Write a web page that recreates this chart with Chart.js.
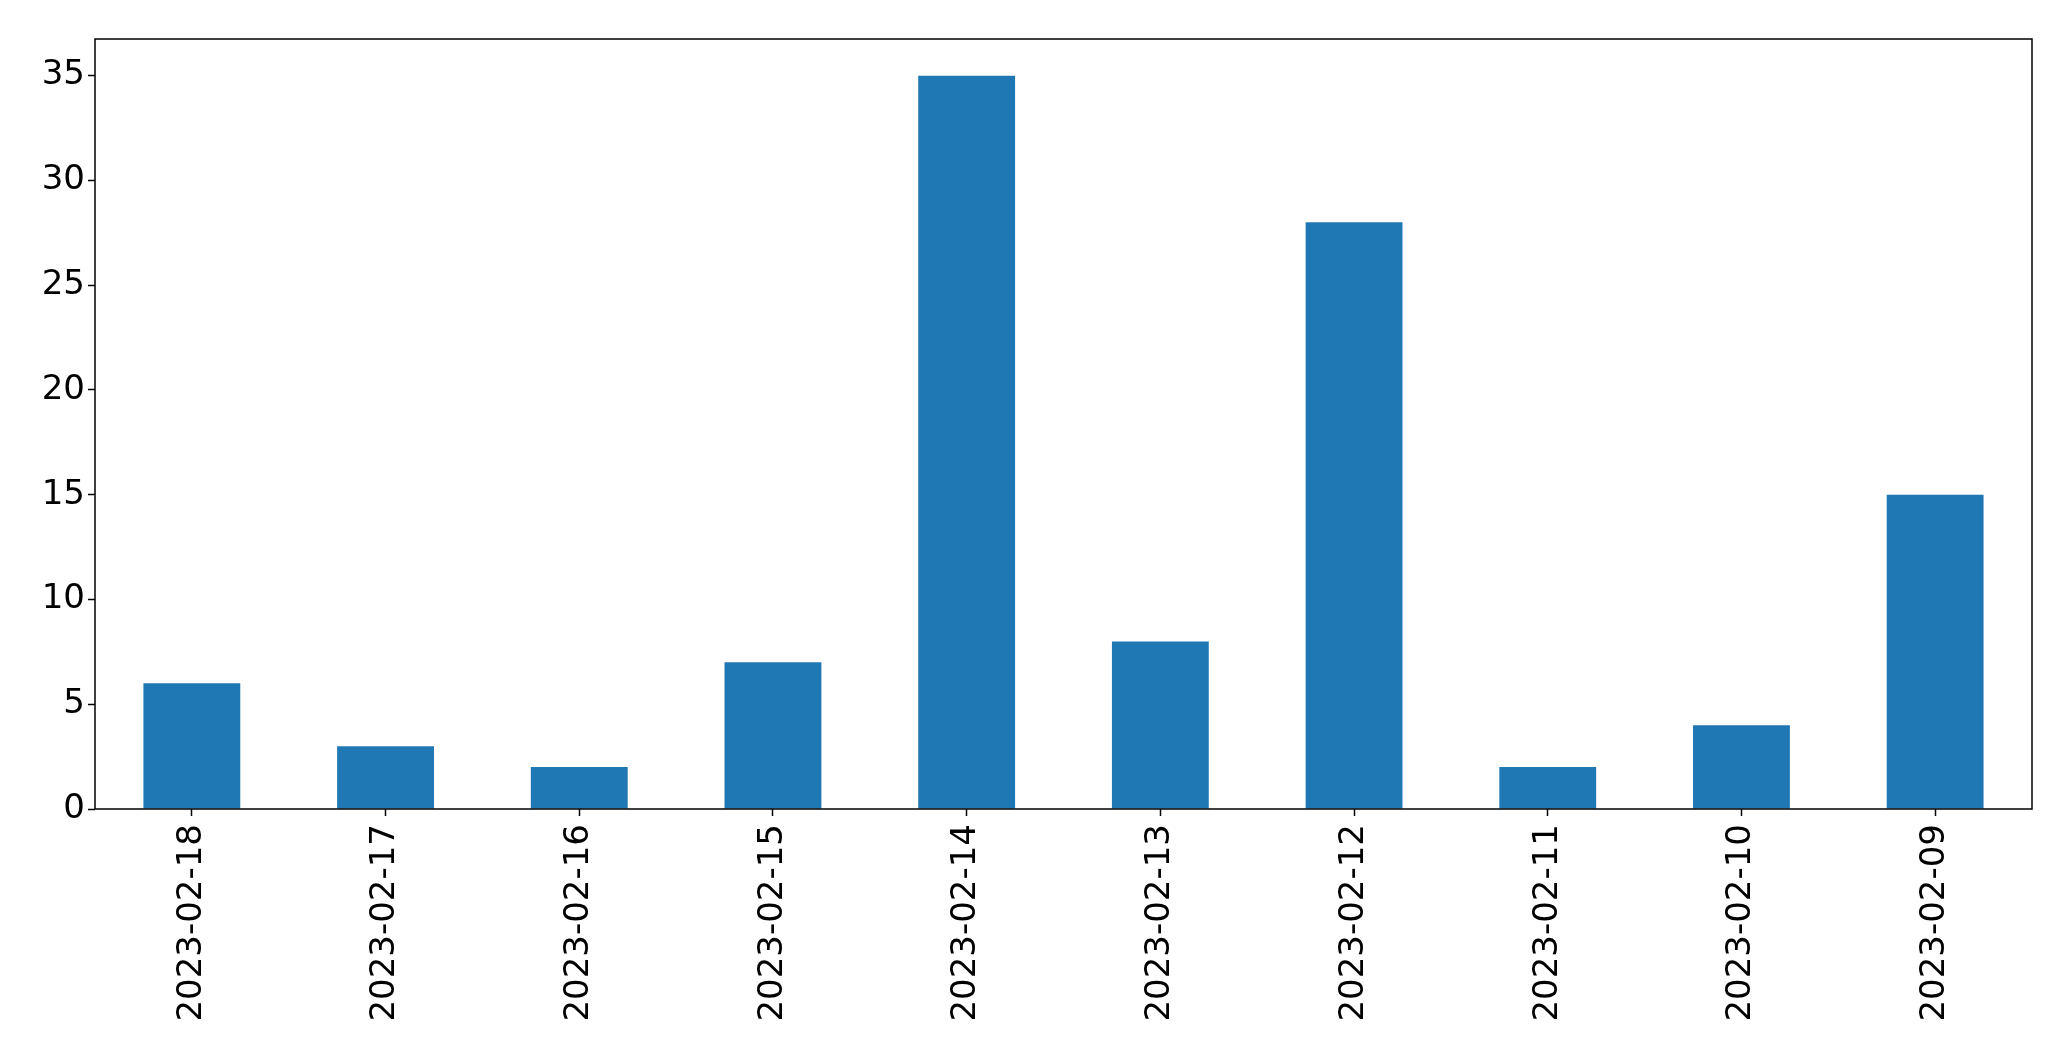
<!DOCTYPE html>
<html>
<head>
<meta charset="utf-8">
<script src="https://cdn.jsdelivr.net/npm/chart.js@4/dist/chart.umd.min.js"></script>
<style>
  html, body { margin: 0; padding: 0; background: #ffffff; }
  #wrap { width: 2071px; height: 1061px; }
</style>
</head>
<body>
<div id="wrap"><canvas id="c" width="2071" height="1061"></canvas></div>
<script>
const categories = ["2023-02-18", "2023-02-17", "2023-02-16", "2023-02-15", "2023-02-14",
                    "2023-02-13", "2023-02-12", "2023-02-11", "2023-02-10", "2023-02-09"];
const values = [6, 3, 2, 7, 35, 8, 28, 2, 4, 15];
const yTickValues = [0, 5, 10, 15, 20, 25, 30, 35];
const yMax = 36.75;

const FONT = { family: "'DejaVu Sans', sans-serif", size: 34 };

const frame = {
  id: 'frame',
  afterDraw(chart) {
    const a = chart.chartArea, ctx = chart.ctx;
    ctx.save();
    ctx.strokeStyle = '#000';
    ctx.lineWidth = 1.5;
    ctx.strokeRect(a.left, a.top, a.right - a.left, a.bottom - a.top);
    ctx.restore();
  }
};

new Chart(document.getElementById('c'), {
  type: 'bar',
  data: {
    labels: categories,
    datasets: [{
      data: values,
      backgroundColor: '#1f77b4',
      borderWidth: 0,
      categoryPercentage: 1.0,
      barPercentage: 0.5
    }]
  },
  options: {
    responsive: false,
    animation: false,
    events: [],
    layout: { padding: { top: 39, right: 39, left: 0, bottom: 0 } },
    plugins: { legend: { display: false }, tooltip: { enabled: false } },
    scales: {
      x: {
        offset: true,
        grid: { display: true, offset: false, drawOnChartArea: false, tickLength: 7, tickColor: '#000', tickWidth: 1.5 },
        border: { display: false },
        ticks: { color: '#000', font: FONT, minRotation: 90, maxRotation: 90, padding: 8, autoSkip: false },
        afterFit(s) { s.height = 252; }
      },
      y: {
        min: 0,
        max: yMax,
        grid: { display: true, drawOnChartArea: false, tickLength: 7, tickColor: '#000', tickWidth: 1.5 },
        border: { display: false },
        ticks: { color: '#000', font: FONT, padding: 3, stepSize: 5 },
        afterBuildTicks(s) { s.ticks = yTickValues.map(v => ({ value: v })); },
        afterFit(s) { s.width = 95; }
      }
    }
  },
  plugins: [frame]
});
</script>
</body>
</html>
